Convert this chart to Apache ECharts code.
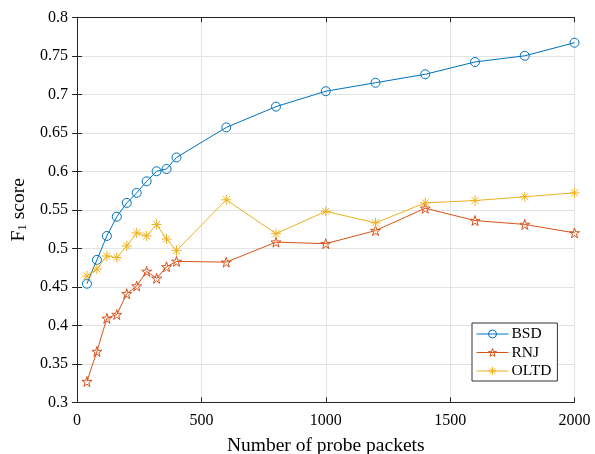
<!DOCTYPE html>
<html>
<head>
<meta charset="utf-8">
<script src="https://cdn.jsdelivr.net/npm/echarts@6/dist/echarts.min.js"></script>
<style>
  html, body { margin: 0; padding: 0; background: #fff; }
  #chart { width: 595px; height: 454px; }
</style>
</head>
<body>
<div id="chart"></div>
<script>
// Number of probe packets
const packets = [40, 80, 120, 160, 200, 240, 280, 320, 360, 400, 600, 800, 1000, 1200, 1400, 1600, 1800, 2000];

// F1 scores per method
const bsd  = [0.454, 0.485, 0.516, 0.541, 0.559, 0.572, 0.587, 0.600, 0.603, 0.618, 0.657, 0.684, 0.704, 0.715, 0.726, 0.742, 0.750, 0.767];
const rnj  = [0.327, 0.366, 0.409, 0.414, 0.441, 0.451, 0.470, 0.461, 0.476, 0.483, 0.482, 0.508, 0.506, 0.523, 0.552, 0.536, 0.531, 0.520];
const oltd = [0.464, 0.473, 0.490, 0.488, 0.503, 0.520, 0.516, 0.531, 0.512, 0.497, 0.563, 0.519, 0.548, 0.533, 0.559, 0.562, 0.567, 0.572];

const seriesNames = ['BSD', 'RNJ', 'OLTD'];
const colors = ['#0072BD', '#D95319', '#EDB120'];

const FONT = '"Liberation Serif", "DejaVu Serif", serif';
const AXIS = '#262626';
const GRID = '#e3e3e3';

const pairs = ys => packets.map((x, i) => [x, ys[i]]);

const starPath = 'path://M0,-10 L2.245,-3.09 L9.51,-3.09 L3.633,1.18 L5.878,8.09 L0,3.82 L-5.878,8.09 L-3.633,1.18 L-9.51,-3.09 L-2.245,-3.09 Z';
const asteriskPath = 'path://M0,-10 L0,10 M-10,0 L10,0 M-7.07,-7.07 L7.07,7.07 M-7.07,7.07 L7.07,-7.07';

const symbols = ['circle', starPath, asteriskPath];
const symbolSizes = [9, 10, 10];

const hollow = color => ({ color: 'rgba(255,255,255,0)', borderColor: color, borderWidth: 1 });

function makeSeries(i, ys) {
  return {
    name: seriesNames[i],
    type: 'line',
    data: pairs(ys),
    color: colors[i],
    symbol: symbols[i],
    symbolSize: symbolSizes[i],
    showAllSymbol: true,
    lineStyle: { color: colors[i], width: 1 },
    itemStyle: hollow(colors[i]),
    emphasis: { disabled: true },
    animation: false,
    z: 3
  };
}

const chart = echarts.init(document.getElementById('chart'), null, { renderer: 'canvas' });

const tickStyle = { show: true, inside: true, length: 5, lineStyle: { color: AXIS } };
const lineStyle = { show: true, lineStyle: { color: AXIS, width: 1 } };

chart.setOption({
  backgroundColor: '#fff',
  animation: false,
  textStyle: { fontFamily: FONT },
  grid: { left: 77, right: 20.5, top: 17.3, bottom: 51.7, containLabel: false, outerBoundsMode: 'none' },
  legend: {
    data: seriesNames.map((n, i) => ({
      name: n,
      itemStyle: hollow(colors[i]),
      lineStyle: { color: colors[i], width: 1 }
    })),
    orient: 'vertical',
    left: 472,
    top: 323,
    backgroundColor: '#fff',
    borderColor: '#333',
    borderWidth: 1,
    borderRadius: 0,
    padding: [3, 6, 2, 4],
    itemWidth: 32,
    itemHeight: 10,
    itemGap: 2.5,
    textStyle: { fontFamily: FONT, fontSize: 15.5, color: '#000', padding: [0, 0, 0, -2] }
  },
  xAxis: [
    {
      type: 'value', min: 0, max: 2000, interval: 500,
      name: 'Number of probe packets',
      nameLocation: 'middle', nameGap: 34,
      nameTextStyle: { fontFamily: FONT, fontSize: 19.5, color: '#000' },
      axisLine: lineStyle,
      axisTick: tickStyle,
      axisLabel: { fontFamily: FONT, fontSize: 16, color: '#000', margin: 10, formatter: v => String(v) },
      splitLine: { show: true, lineStyle: { color: GRID, width: 1 } }
    },
    {
      type: 'value', min: 0, max: 2000, interval: 500, position: 'top',
      axisLine: lineStyle, axisTick: tickStyle,
      axisLabel: { show: false }, splitLine: { show: false }
    }
  ],
  yAxis: [
    {
      type: 'value', min: 0.3, max: 0.8, interval: 0.05,
      name: '{f|F}{s|1}{f| score}',
      nameLocation: 'middle', nameGap: 44, nameRotate: 90,
      nameTextStyle: {
        rich: {
          f: { fontFamily: FONT, fontSize: 19.5, color: '#000' },
          s: { fontFamily: FONT, fontSize: 13, color: '#000', verticalAlign: 'bottom', padding: [8, 0, 0, 0] }
        }
      },
      axisLine: lineStyle,
      axisTick: tickStyle,
      axisLabel: {
        fontFamily: FONT, fontSize: 16, color: '#000', margin: 9,
        formatter: v => String(Math.round(v * 100) / 100)
      },
      splitLine: { show: true, lineStyle: { color: GRID, width: 1 } }
    },
    {
      type: 'value', min: 0.3, max: 0.8, interval: 0.05, position: 'right',
      axisLine: lineStyle, axisTick: tickStyle,
      axisLabel: { show: false }, splitLine: { show: false }
    }
  ],
  series: [
    makeSeries(0, bsd),
    makeSeries(1, rnj),
    makeSeries(2, oltd)
  ]
});
</script>
</body>
</html>
